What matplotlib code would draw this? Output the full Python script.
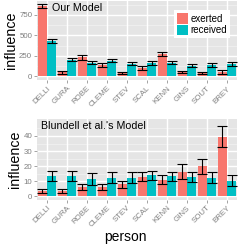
import matplotlib
matplotlib.use("Agg")
import matplotlib.pyplot as plt
import numpy as np
from matplotlib.patches import Patch

plt.rcParams['font.family'] = ['Liberation Sans', 'DejaVu Sans']

persons = ["DELLI", "GURA", "ROBE", "CLEME", "STEV", "SCAL", "KENN", "GINS", "SOUT", "BREY"]

our_exerted = [860, 45, 230, 135, 40, 95, 270, 50, 40, 50]
our_exerted_err = [30, 15, 30, 20, 15, 25, 30, 15, 15, 20]
our_received = [430, 200, 165, 190, 150, 160, 165, 125, 135, 148]
our_received_err = [25, 20, 20, 20, 20, 20, 20, 20, 20, 20]

bl_exerted = [3.5, 3.5, 6, 6, 8, 13, 11, 16.5, 20, 39.5]
bl_exerted_err = [1.5, 1.2, 2, 2, 2.5, 3, 3, 5, 5, 7]
bl_received = [13.5, 13.5, 11.5, 12.5, 12.5, 14, 13.5, 13, 12.5, 10.5]
bl_received_err = [3.5, 3.5, 4, 3.5, 3.5, 3, 3, 3.5, 3.5, 3.5]

RED = "#F8766D"
CYAN = "#00BFC4"
BG = "#E5E5E5"
GREY = "#7F7F7F"

fig = plt.figure(figsize=(2.43, 2.44), dpi=100)
W, H = 243.0, 244.0
ax1 = fig.add_axes([37 / W, 1 - 80 / H, 200 / W, 79 / H])
ax2 = fig.add_axes([37 / W, 1 - 199.5 / H, 200 / W, 80.5 / H])

x = np.arange(len(persons))
bw = 0.47


def draw(ax, ex, exe, rc, rce, yticks, minor, ylim, title, tx):
    ax.set_facecolor(BG)
    for s in ax.spines.values():
        s.set_visible(False)
    ax.set_axisbelow(True)
    for m in minor:
        ax.axhline(m, color="#F2F2F2", lw=0.5, zorder=0)
    for t in yticks:
        ax.axhline(t, color="white", lw=1.0, zorder=0.5)
    for xi in x:
        ax.axvline(xi, color="white", lw=1.0, zorder=0.5)
    ax.bar(x - bw / 2, ex, width=bw, color=RED, zorder=2)
    ax.bar(x + bw / 2, rc, width=bw, color=CYAN, zorder=2)
    ax.errorbar(x - bw / 2, ex, yerr=exe, fmt="none", ecolor="black",
                elinewidth=0.8, capsize=3.5, capthick=0.8, zorder=3)
    ax.errorbar(x + bw / 2, rc, yerr=rce, fmt="none", ecolor="black",
                elinewidth=0.8, capsize=3.5, capthick=0.8, zorder=3)
    ax.set_xlim(-0.5, len(persons) - 0.5)
    ax.set_ylim(*ylim)
    ax.set_yticks(yticks)
    ax.set_yticklabels([str(t) for t in yticks], fontsize=5.7, color=GREY)
    ax.set_xticks(x)
    ax.set_xticklabels(persons, rotation=45, ha="right", va="top",
                       rotation_mode="anchor", fontsize=5.7, color=GREY)
    ax.tick_params(axis="both", length=2, width=0.5, color=GREY, pad=1.5)
    ax.set_ylabel("influence", fontsize=10.3, labelpad=1)
    ax.text(tx, 0.975, title, transform=ax.transAxes, ha="left", va="top",
            fontsize=7.7)


draw(ax1, our_exerted, our_exerted_err, our_received, our_received_err,
     [0, 250, 500, 750], [125, 375, 625, 875], (-49, 922), "Our Model", 0.075)
draw(ax2, bl_exerted, bl_exerted_err, bl_received, bl_received_err,
     [0, 10, 20, 30, 40], [5, 15, 25, 35, 45], (-2.0, 51.2),
     "Blundell et al.'s Model", 0.02)
ax2.set_xlabel("person", fontsize=10, labelpad=4)
ax2.xaxis.set_label_coords(0.443, -0.38)
ax2.xaxis.label.set_va("top")

handles = [Patch(facecolor=RED, label="exerted"), Patch(facecolor=CYAN, label="received")]
leg = ax1.legend(handles=handles, loc="upper right", bbox_to_anchor=(0.967, 0.885),
                 fontsize=7, frameon=True, fancybox=False, framealpha=1,
                 edgecolor="white", handlelength=1.2, handleheight=1.3,
                 handletextpad=0.25, borderpad=0.3, labelspacing=0.12,
                 borderaxespad=0)
leg.get_frame().set_linewidth(0)

fig.savefig("out.png", dpi=100, facecolor="white")
